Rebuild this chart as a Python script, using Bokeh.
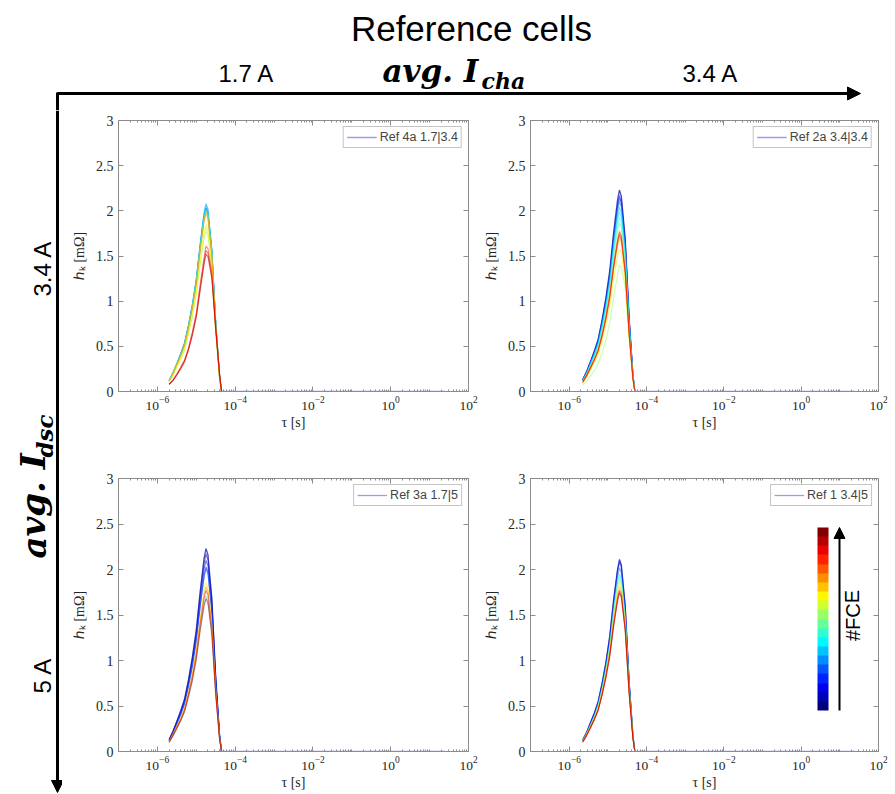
from bokeh.plotting import figure
from bokeh.layouts import row, column
from bokeh.models import (Range1d, FixedTicker, LogAxis, LinearAxis, NumeralTickFormatter,
                          Legend, LegendItem, ColorBar, LinearColorMapper, Arrow, NormalHead, Label)
from bokeh.embed import file_html
from bokeh.resources import INLINE
from bokeh.core.properties import value

# ---------------- data ----------------
tau_left = [2.00e-6, 2.51e-6, 3.16e-6, 3.98e-6, 5.01e-6, 6.31e-6, 7.94e-6, 1.00e-5, 1.26e-5,
            1.58e-5, 1.78e-5, 2.00e-5, 2.51e-5, 3.16e-5, 3.98e-5, 4.47e-5, 25.0]
tau_right = [2.24e-6, 2.82e-6, 3.55e-6, 4.47e-6, 5.62e-6, 7.08e-6, 8.91e-6, 1.12e-5, 1.41e-5,
             1.78e-5, 2.00e-5, 2.24e-5, 2.82e-5, 3.55e-5, 4.47e-5, 5.01e-5, 25.0]

x_major = [1e-6, 1e-4, 1e-2, 1e0, 1e2]
y_major = [0, 0.5, 1, 1.5, 2, 2.5, 3]

header_title = "Reference cells"
col_labels = ["1.7 A", "3.4 A"]
row_labels = ["3.4 A", "5 A"]
legend_labels = ["Ref 4a 1.7|3.4", "Ref 2a 3.4|3.4", "Ref 3a 1.7|5", "Ref 1 3.4|5"]
colorbar_label = "#FCE"

# colour index (0 = first FCE, 19 = last FCE) of each curve, and h_k values (mOhm)
tl_fce = [2, 5, 6, 7, 8, 9, 10, 11, 12, 13, 14, 16, 17, 18]
tl_h = [
    [.12, .20, .30, .41, .53, .72, .94, 1.22, 1.60, 1.93, 2.03, 1.97, 1.54, .75, .16, 0, 0],
    [.12, .21, .31, .42, .54, .74, .97, 1.25, 1.64, 1.98, 2.08, 2.02, 1.58, .77, .17, 0, 0],
    [.12, .21, .31, .41, .54, .73, .96, 1.24, 1.63, 1.96, 2.06, 2.00, 1.57, .76, .16, 0, 0],
    [.12, .20, .30, .41, .53, .72, .94, 1.22, 1.60, 1.93, 2.03, 1.97, 1.54, .75, .16, 0, 0],
    [.12, .20, .30, .40, .52, .71, .93, 1.21, 1.59, 1.91, 2.01, 1.95, 1.53, .74, .16, 0, 0],
    [.12, .20, .30, .40, .52, .71, .93, 1.20, 1.58, 1.90, 2.00, 1.94, 1.52, .74, .16, 0, 0],
    [.11, .18, .27, .36, .46, .63, .83, 1.07, 1.41, 1.69, 1.78, 1.73, 1.35, .66, .14, 0, 0],
    [.11, .18, .27, .36, .47, .65, .85, 1.09, 1.44, 1.73, 1.82, 1.77, 1.38, .67, .15, 0, 0],
    [.11, .19, .28, .37, .48, .66, .86, 1.11, 1.46, 1.76, 1.85, 1.79, 1.41, .68, .15, 0, 0],
    [.12, .20, .30, .39, .51, .70, .92, 1.18, 1.56, 1.87, 1.97, 1.91, 1.50, .73, .16, 0, 0],
    [.12, .20, .30, .40, .52, .71, .93, 1.19, 1.57, 1.89, 1.99, 1.93, 1.51, .74, .16, 0, 0],
    [.08, .13, .19, .27, .35, .48, .66, .87, 1.19, 1.48, 1.61, 1.58, 1.32, .72, .19, 0, 0],
    [.08, .12, .19, .26, .34, .47, .64, .84, 1.15, 1.44, 1.56, 1.53, 1.28, .70, .19, 0, 0],
    [.08, .12, .18, .25, .33, .46, .62, .82, 1.12, 1.40, 1.52, 1.49, 1.25, .68, .18, 0, 0],
]

tr_fce = [0, 2, 3, 5, 6, 7, 8, 9, 10, 12, 13, 14, 16, 17]
tr_h = [
    [.13, .22, .33, .45, .58, .79, 1.04, 1.34, 1.76, 2.12, 2.23, 2.16, 1.69, .83, .18, 0, 0],
    [.13, .22, .33, .43, .56, .77, 1.01, 1.30, 1.71, 2.06, 2.17, 2.10, 1.65, .80, .17, 0, 0],
    [.13, .21, .32, .43, .56, .76, 1.00, 1.28, 1.69, 2.03, 2.14, 2.08, 1.63, .79, .17, 0, 0],
    [.13, .21, .32, .42, .55, .75, .98, 1.26, 1.66, 2.00, 2.10, 2.04, 1.60, .78, .17, 0, 0],
    [.12, .20, .31, .41, .53, .72, .95, 1.22, 1.61, 1.94, 2.04, 1.98, 1.55, .75, .16, 0, 0],
    [.12, .20, .30, .40, .52, .71, .93, 1.19, 1.57, 1.89, 1.99, 1.93, 1.51, .74, .16, 0, 0],
    [.12, .19, .29, .39, .50, .69, .90, 1.16, 1.52, 1.83, 1.93, 1.87, 1.47, .71, .15, 0, 0],
    [.11, .19, .28, .37, .49, .66, .87, 1.12, 1.48, 1.78, 1.87, 1.81, 1.42, .69, .15, 0, 0],
    [.07, .11, .17, .23, .31, .42, .57, .76, 1.04, 1.29, 1.40, 1.37, 1.15, .63, .17, 0, 0],
    [.09, .16, .24, .32, .41, .56, .73, .95, 1.25, 1.50, 1.58, 1.53, 1.20, .58, .13, 0, 0],
    [.10, .17, .25, .34, .44, .60, .79, 1.01, 1.34, 1.61, 1.69, 1.64, 1.28, .63, .14, 0, 0],
    [.11, .18, .27, .36, .46, .63, .83, 1.07, 1.41, 1.69, 1.78, 1.73, 1.35, .66, .14, 0, 0],
    [.11, .18, .26, .35, .46, .62, .82, 1.06, 1.39, 1.67, 1.76, 1.71, 1.34, .65, .14, 0, 0],
    [.10, .17, .26, .35, .45, .61, .80, 1.04, 1.37, 1.64, 1.73, 1.68, 1.31, .64, .14, 0, 0],
]

bl_fce = [0, 1, 2, 3, 4, 7, 12, 14, 16, 18]
bl_h = [
    [.13, .22, .33, .45, .58, .79, 1.04, 1.34, 1.76, 2.12, 2.23, 2.16, 1.69, .83, .18, 0, 0],
    [.13, .22, .33, .43, .56, .77, 1.01, 1.30, 1.71, 2.06, 2.17, 2.10, 1.65, .80, .17, 0, 0],
    [.13, .21, .32, .42, .55, .75, .98, 1.26, 1.66, 2.00, 2.10, 2.04, 1.60, .78, .17, 0, 0],
    [.12, .20, .30, .41, .53, .72, .94, 1.22, 1.60, 1.93, 2.03, 1.97, 1.54, .75, .16, 0, 0],
    [.12, .20, .30, .40, .52, .71, .93, 1.21, 1.59, 1.91, 2.01, 1.95, 1.53, .74, .16, 0, 0],
    [.10, .17, .26, .34, .44, .61, .80, 1.03, 1.35, 1.62, 1.71, 1.66, 1.30, .63, .14, 0, 0],
    [.11, .19, .28, .37, .48, .66, .86, 1.12, 1.47, 1.77, 1.86, 1.80, 1.41, .69, .15, 0, 0],
    [.11, .18, .27, .36, .47, .64, .84, 1.09, 1.43, 1.72, 1.81, 1.76, 1.38, .67, .14, 0, 0],
    [.11, .18, .27, .35, .46, .63, .82, 1.06, 1.40, 1.68, 1.77, 1.72, 1.35, .65, .14, 0, 0],
    [.10, .17, .25, .34, .44, .60, .78, 1.01, 1.33, 1.60, 1.68, 1.63, 1.28, .62, .13, 0, 0],
]

br_fce = [0, 2, 4, 7, 9, 11, 13, 15, 17, 18]
br_h = [
    [.13, .21, .32, .42, .55, .75, .98, 1.27, 1.67, 2.00, 2.11, 2.05, 1.60, .78, .17, 0, 0],
    [.12, .21, .31, .42, .54, .74, .97, 1.25, 1.64, 1.98, 2.08, 2.02, 1.58, .77, .17, 0, 0],
    [.12, .20, .30, .40, .53, .72, .94, 1.21, 1.60, 1.92, 2.02, 1.96, 1.54, .75, .16, 0, 0],
    [.12, .20, .29, .39, .51, .69, .91, 1.17, 1.54, 1.85, 1.95, 1.89, 1.48, .72, .16, 0, 0],
    [.11, .19, .29, .38, .50, .68, .89, 1.15, 1.51, 1.81, 1.91, 1.85, 1.45, .71, .15, 0, 0],
    [.11, .19, .28, .37, .49, .66, .87, 1.12, 1.48, 1.78, 1.87, 1.81, 1.42, .69, .15, 0, 0],
    [.11, .18, .27, .36, .47, .65, .85, 1.09, 1.44, 1.73, 1.82, 1.77, 1.38, .67, .15, 0, 0],
    [.11, .18, .27, .36, .46, .63, .83, 1.07, 1.41, 1.69, 1.78, 1.73, 1.35, .66, .14, 0, 0],
    [.11, .18, .26, .35, .46, .62, .82, 1.06, 1.39, 1.67, 1.76, 1.71, 1.34, .65, .14, 0, 0],
    [.10, .17, .26, .35, .45, .62, .81, 1.04, 1.37, 1.65, 1.74, 1.69, 1.32, .64, .14, 0, 0],
]

N_FCE = 20


# ---------------- style helpers ----------------
def jet(n):
    out = []
    for i in range(n):
        t = i / (n - 1)
        r = min(max(1.5 - abs(4 * t - 3), 0), 1)
        g = min(max(1.5 - abs(4 * t - 2), 0), 1)
        b = min(max(1.5 - abs(4 * t - 1), 0), 1)
        out.append("#%02x%02x%02x" % (round(r * 255), round(g * 255), round(b * 255)))
    return out


JET = jet(N_FCE)
AX = "#8c8c8c"
LEGEND_LINE = "#9c9cf0"
SERIF = "Liberation Serif"
SANS = "Liberation Sans"
x_minor = [m * 10.0 ** e for e in range(-7, 2) for m in range(1, 10)
           if not (m == 1 and 10.0 ** e in x_major)]


def style_axis(ax, font_size="13.5px"):
    ax.axis_line_color = AX
    ax.major_tick_line_color = AX
    ax.minor_tick_line_color = AX
    ax.major_tick_in = 5
    ax.major_tick_out = 0
    ax.minor_tick_in = 2
    ax.minor_tick_out = 0
    ax.major_label_text_font = SERIF
    ax.major_label_text_font_size = font_size
    ax.major_label_text_color = "#262626"
    ax.axis_label_text_font = SERIF
    ax.axis_label_text_font_size = "14px"
    ax.axis_label_text_font_style = "normal"
    ax.axis_label_text_color = "#262626"


def mute_labels(ax):
    ax.major_label_text_font_size = "2px"
    ax.major_label_text_color = None
    ax.major_label_standoff = 0


def panel(w, h, bl, br, bt, bb, tau, fce, hs, label):
    p = figure(width=w, height=h, x_axis_type="log",
               x_range=Range1d(1e-7, 1e2), y_range=Range1d(0, 3),
               output_backend="svg", toolbar_location=None,
               min_border_left=bl, min_border_right=br,
               min_border_top=bt, min_border_bottom=bb)
    p.background_fill_color = "white"
    p.border_fill_color = "white"
    p.outline_line_color = AX
    p.grid.visible = False
    # legend key: the first curve, drawn underneath its coloured copy
    key = p.line(tau, hs[0], line_color=LEGEND_LINE, line_width=1.3)
    for ci, hv in zip(fce, hs):
        p.line(tau, hv, line_color=JET[ci], line_width=1.1, line_alpha=0.55)
    xa = p.xaxis[0]
    xa.ticker = FixedTicker(ticks=x_major, minor_ticks=x_minor)
    xa.axis_label = "τ [s]"
    xa.axis_label_standoff = 2
    style_axis(xa)
    ya = p.yaxis[0]
    ya.ticker = FixedTicker(ticks=y_major)
    ya.formatter = NumeralTickFormatter(format="0.[0]")
    ya.axis_label = "ℎₖ [mΩ]"
    ya.axis_label_standoff = 6
    style_axis(ya, "14px")
    ya.minor_tick_line_color = None
    top = LogAxis(ticker=FixedTicker(ticks=x_major, minor_ticks=x_minor))
    style_axis(top)
    mute_labels(top)
    p.add_layout(top, "above")
    right = LinearAxis(ticker=FixedTicker(ticks=y_major))
    style_axis(right)
    mute_labels(right)
    right.minor_tick_line_color = None
    p.add_layout(right, "right")
    leg = Legend(items=[LegendItem(label=label, renderers=[key])], location="top_right")
    leg.label_text_font = SANS
    leg.label_text_font_size = "12.5px"
    leg.label_height = 12
    leg.glyph_height = 12
    leg.glyph_width = 30
    leg.label_standoff = 3
    leg.padding = 3
    leg.spacing = 0
    leg.margin = 6
    leg.border_line_color = AX
    p.add_layout(leg)
    return p


tl = panel(418, 358, 56, 12, 10, 77, tau_left, tl_fce, tl_h, legend_labels[0])
tr = panel(415, 358, 48, 17, 10, 77, tau_right, tr_fce, tr_h, legend_labels[1])
bl = panel(418, 326, 56, 12, 10, 43, tau_left, bl_fce, bl_h, legend_labels[2])
br = panel(415, 326, 48, 17, 10, 43, tau_right, br_fce, br_h, legend_labels[3])

# colour bar for the FCE index, with an arrow and label
mapper = LinearColorMapper(palette=JET, low=0, high=N_FCE)
cb = ColorBar(color_mapper=mapper, location=(287, 41), width=11, height=183,
              major_tick_line_color=None, minor_tick_line_color=None,
              major_label_text_font_size="2px", major_label_text_color=None,
              bar_line_color=None, border_line_color=None,
              background_fill_alpha=0, padding=0)
br.add_layout(cb)
br.add_layout(Arrow(x_start=309, y_start=41, x_end=309, y_end=224,
                    start_units="screen", end_units="screen",
                    line_width=2, line_color="black",
                    end=NormalHead(size=11, fill_color="black", line_color="black")))
br.add_layout(Label(x=322, y=136, x_units="screen", y_units="screen", text=colorbar_label,
                    angle=1.5708, text_align="center", text_baseline="middle",
                    text_font=SANS, text_font_size="20px", text_color="black"))

# ---------------- header (column axis) ----------------
hdr = figure(width=895, height=110, x_range=Range1d(0, 895), y_range=Range1d(110, 0),
             x_axis_type=None, y_axis_type=None, output_backend="svg",
             toolbar_location=None, min_border=0)
hdr.outline_line_color = None
hdr.grid.visible = False
hdr.text(x=[471], y=[28], text=[header_title], text_font=value(SANS), text_font_size="35px",
         text_align="center", text_baseline="middle", text_color="black")
hdr.text(x=[246, 710], y=[73, 73], text=col_labels, text_font=value(SANS), text_font_size="24px",
         text_align="center", text_baseline="middle", text_color="black")
hdr.text(x=[382], y=[70], text=["avg. I"], text_font=value("DejaVu Serif"), text_font_size="31px",
         text_font_style="bold italic", text_align="left", text_baseline="middle", text_color="black")
hdr.text(x=[481], y=[80], text=["cha"], text_font=value("DejaVu Serif"), text_font_size="22px",
         text_font_style="bold italic", text_align="left", text_baseline="middle", text_color="black")
hdr.add_layout(Arrow(x_start=57, y_start=93, x_end=860, y_end=93, line_width=3, line_color="black",
                     end=NormalHead(size=13, fill_color="black", line_color="black")))
hdr.segment(x0=[57], y0=[92], x1=[57], y1=[110], line_width=3, line_color="black")

# ---------------- left strip (row axis) ----------------
left = figure(width=62, height=684, x_range=Range1d(0, 62), y_range=Range1d(794, 110),
              x_axis_type=None, y_axis_type=None, output_backend="svg",
              toolbar_location=None, min_border=0)
left.outline_line_color = None
left.grid.visible = False
left.text(x=[42, 42], y=[268, 675], text=row_labels, text_font=value(SANS), text_font_size="24px",
          angle=1.5708, text_align="center", text_baseline="middle", text_color="black")
left.text(x=[33], y=[558], text=["avg. I"], text_font=value("DejaVu Serif"), text_font_size="34px",
          text_font_style="bold italic", angle=1.5708, text_align="left",
          text_baseline="middle", text_color="black")
left.text(x=[44], y=[457], text=["dsc"], text_font=value("DejaVu Serif"), text_font_size="23px",
          text_font_style="bold italic", angle=1.5708, text_align="left",
          text_baseline="middle", text_color="black")
left.add_layout(Arrow(x_start=57, y_start=110, x_end=57, y_end=792, line_width=3, line_color="black",
                      end=NormalHead(size=12, fill_color="black", line_color="black")))

layout = column(hdr, row(left, column(row(tl, tr), row(bl, br))))
open("out.html", "w").write(file_html(layout, INLINE))
